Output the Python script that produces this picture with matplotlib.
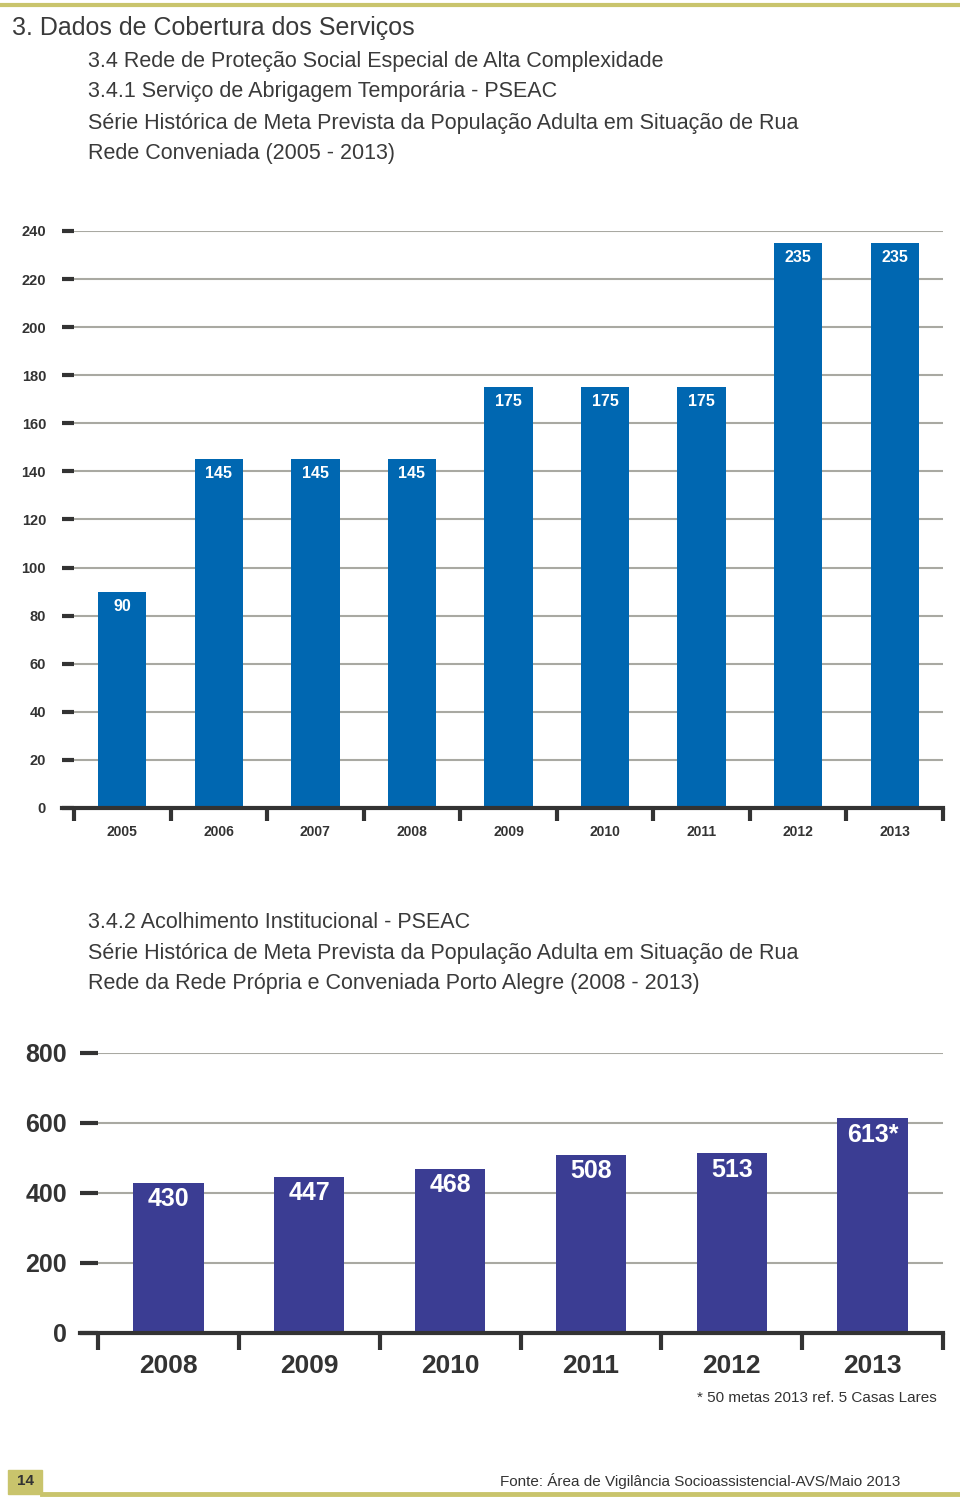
import matplotlib.pyplot as plt
from matplotlib.patches import Rectangle
from matplotlib.lines import Line2D

plt.rcParams['font.family'] = ['Liberation Sans', 'DejaVu Sans']

# dados do grafico 3.4.1
anos_abrigo = ['2005', '2006', '2007', '2008', '2009', '2010', '2011', '2012', '2013']
metas_abrigo = [90, 145, 145, 145, 175, 175, 175, 235, 235]
rotulos_abrigo = [str(v) for v in metas_abrigo]
ticks_abrigo = [0, 20, 40, 60, 80, 100, 120, 140, 160, 180, 200, 220, 240]

# dados do grafico 3.4.2
anos_acolh = ['2008', '2009', '2010', '2011', '2012', '2013']
metas_acolh = [430, 447, 468, 508, 513, 613]
rotulos_acolh = ['430', '447', '468', '508', '513', '613*']
ticks_acolh = [0, 200, 400, 600, 800]

AZUL = '#0067b1'
ROXO = '#3b3d93'
OURO = '#c9c46c'
CINZA = '#a9a9a2'
ESCURO = '#333333'
TEXTO = '#3a3a3a'


# desenha um grafico de barras; left = inicio do traço, x0 = inicio da primeira categoria (px)
def grafico(fig, left, x0, right, y_top, y_base, anos, valores, rotulos_v, cor, ticks,
            fs_y, pad_y, fs_x, pad_x, fs_v, off_v, tick_len_x):
    n = len(anos)
    ax = fig.add_axes([left / 960, 1 - y_base / 1500, (right - left) / 960, (y_base - y_top) / 1500])
    dash = x0 - left
    passo = (right - x0) / n
    x = list(range(n))
    ax.bar(x, valores, width=0.5, color=cor, zorder=3)
    ax.set_xlim(-0.5 - dash / passo, n - 0.5)
    ax.set_ylim(0, ticks[-1])
    for s in ['top', 'right', 'left']:
        ax.spines[s].set_visible(False)
    ax.spines['bottom'].set_linewidth(3)
    ax.spines['bottom'].set_color(ESCURO)
    ax.spines['bottom'].set_zorder(4)
    ax.set_yticks(ticks)
    ax.set_yticklabels([str(t) for t in ticks], fontsize=fs_y, fontweight='bold', color=ESCURO)
    ax.tick_params(axis='y', direction='in', length=dash * 0.72, width=3, color=ESCURO, pad=pad_y)
    ax.yaxis.grid(True, color=CINZA, linewidth=1.5, zorder=1)
    ax.set_axisbelow(True)
    # rotulos no centro, marcas nas divisas
    ax.set_xticks(x)
    ax.set_xticklabels(anos, fontsize=fs_x, fontweight='bold', color=ESCURO)
    ax.tick_params(axis='x', which='major', length=0, pad=pad_x)
    ax.set_xticks([i - 0.5 for i in range(n + 1)], minor=True)
    ax.tick_params(axis='x', which='minor', direction='out', length=tick_len_x, width=3, color=ESCURO)
    for xi, v, lab in zip(x, valores, rotulos_v):
        ax.annotate(lab, (xi, v), xytext=(0, -off_v), textcoords='offset points',
                    ha='center', va='top', color='white', fontsize=fs_v, fontweight='bold', zorder=5)
    return ax


fig = plt.figure(figsize=(9.6, 15), dpi=100)

# cabecalho
fig.add_artist(Line2D([0, 1], [1 - 5 / 1500] * 2, color=OURO, linewidth=3))
fig.text(12 / 960, 1 - 28 / 1500, '3. Dados de Cobertura dos Serviços', fontsize=18, color=TEXTO, va='center')
titulo1 = ['3.4 Rede de Proteção Social Especial de Alta Complexidade',
           '3.4.1 Serviço de Abrigagem Temporária - PSEAC',
           'Série Histórica de Meta Prevista da População Adulta em Situação de Rua',
           'Rede Conveniada (2005 - 2013)']
for i, t in enumerate(titulo1):
    fig.text(88 / 960, 1 - (61 + 31 * i) / 1500, t, fontsize=15.5, color=TEXTO, va='center')

titulo2 = ['3.4.2 Acolhimento Institucional - PSEAC',
           'Série Histórica de Meta Prevista da População Adulta em Situação de Rua',
           'Rede da Rede Própria e Conveniada Porto Alegre (2008 - 2013)']
for i, t in enumerate(titulo2):
    fig.text(88 / 960, 1 - (922 + 31 * i) / 1500, t, fontsize=15.5, color=TEXTO, va='center')

grafico(fig, 62, 74, 943, 231, 808, anos_abrigo, metas_abrigo, rotulos_abrigo, AZUL, ticks_abrigo,
        fs_y=10.5, pad_y=11.5, fs_x=10, pad_x=12, fs_v=11.5, off_v=5, tick_len_x=9)

grafico(fig, 80, 98, 943, 1053, 1333, anos_acolh, metas_acolh, rotulos_acolh, ROXO, ticks_acolh,
        fs_y=18, pad_y=9.5, fs_x=19, pad_x=15, fs_v=18, off_v=3, tick_len_x=12)

fig.text(937 / 960, 1 - 1398 / 1500, '* 50 metas 2013 ref. 5 Casas Lares', fontsize=11, color=ESCURO,
         ha='right', va='center')

# rodape
fig.add_artist(Rectangle((8 / 960, 1 - 1494 / 1500), 34 / 960, 24 / 1500, color=OURO))
fig.text(25 / 960, 1 - 1481 / 1500, '14', fontsize=11, fontweight='bold', color=ESCURO, ha='center', va='center')
fig.add_artist(Line2D([42 / 960, 1], [1 - 1494 / 1500] * 2, color=OURO, linewidth=3.5))
fig.text(900 / 960, 1 - 1481 / 1500, 'Fonte: Área de Vigilância Socioassistencial-AVS/Maio 2013',
         fontsize=11, color=ESCURO, ha='right', va='center')

fig.savefig('out.png', dpi=100)
